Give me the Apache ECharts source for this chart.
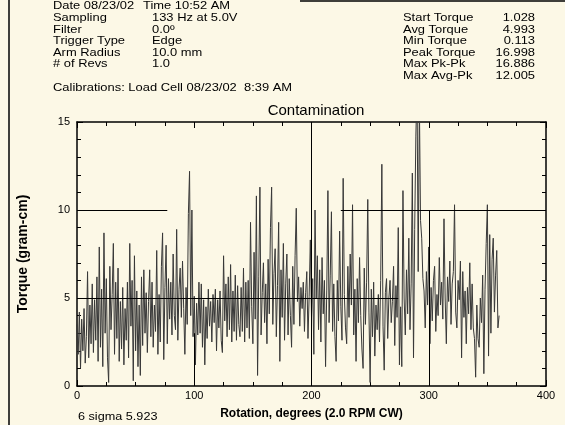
<!DOCTYPE html>
<html>
<head>
<meta charset="utf-8">
<script src="https://cdn.jsdelivr.net/npm/echarts@6/dist/echarts.min.js"></script>
<style>
  html, body { margin: 0; padding: 0; background: #fcf8e6; }
  #chart { width: 565px; height: 425px; }
</style>
</head>
<body>
<div id="chart"></div>
<script>
// torque readings, one per degree of rotation starting at 0
var degStep = 1;
var torque = [
  3.5,1.8,4.2,1.0,3.8,2.0,4.4,1.3,2.8,6.5,
  1.6,4.6,2.4,5.8,1.9,4.9,2.6,6.2,1.4,7.9,
  2.2,5.5,1.1,8.7,3.0,6.1,1.6,0.2,6.8,3.2,
  5.2,8.1,1.8,5.9,2.7,6.7,1.4,4.8,2.1,5.6,
  1.2,4.4,2.6,5.9,1.6,8.1,3.4,6.0,0.3,7.4,
  2.0,5.4,1.1,4.6,0.6,6.2,2.3,6.6,3.0,5.3,
  1.9,4.8,6.6,2.8,5.9,2.2,4.6,3.1,7.7,1.8,
  5.2,2.5,6.8,8.7,1.5,5.6,8.0,2.4,6.1,3.8,
  5.9,2.9,7.5,4.0,3.2,8.9,2.6,5.5,6.7,3.9,
  7.1,4.4,1.8,5.6,3.5,9.8,12.2,4.0,10.0,2.8,
  5.1,1.2,4.7,2.9,5.9,3.0,5.8,2.2,4.9,1.2,
  4.5,2.7,5.5,3.4,4.8,2.5,5.2,3.6,5.5,2.0,
  4.9,3.3,5.4,2.6,1.9,7.4,3.7,5.8,2.8,6.2,
  3.2,6.9,2.5,5.4,3.1,6.3,2.6,5.7,3.5,2.8,
  5.6,3.1,6.7,2.5,5.9,3.3,6.0,2.7,9.3,4.5,
  2.4,7.6,3.8,10.8,0.6,6.2,11.3,2.9,5.3,7.0,
  3.6,5.8,2.4,7.2,4.1,9.0,11.3,3.5,6.4,7.8,
  2.8,5.7,9.3,1.4,6.6,3.9,8.1,2.6,5.8,7.5,
  2.9,6.1,4.0,2.2,6.8,3.5,7.4,10.1,4.8,6.2,
  3.4,5.6,4.4,5.9,3.1,5.3,6.5,2.7,5.1,8.3,
  3.9,6.1,1.8,10.0,5.0,7.4,3.2,6.6,2.5,7.3,
  4.1,6.0,1.1,5.4,11.1,3.6,6.3,9.9,3.1,5.8,
  2.8,1.4,6.0,3.7,8.8,4.5,2.6,11.8,5.2,3.3,
  2.4,6.8,3.9,7.5,4.6,10.3,2.9,5.5,1.4,6.1,
  3.6,7.3,4.0,2.1,1.0,6.7,3.5,5.9,10.6,4.2,
  0.2,5.5,2.8,5.9,1.7,4.6,3.2,5.2,2.5,6.0,
  12.6,3.4,0.9,5.3,6.1,2.7,5.0,6.0,3.6,4.8,
  6.8,2.3,5.7,3.9,9.0,1.2,4.5,1.1,11.1,5.0,
  2.9,6.6,4.1,8.4,3.2,5.8,12.1,1.6,8.9,14.2,
  17.0,6.5,16.2,9.4,8.4,6.1,5.4,3.3,6.5,4.6,
  7.9,2.4,5.6,3.7,6.0,6.8,3.1,5.2,4.0,7.3,
  4.6,5.9,3.8,9.5,5.0,2.4,6.2,4.8,7.1,3.5,
  5.8,6.5,10.3,4.2,3.3,6.0,4.9,7.1,1.6,6.5,
  3.9,5.4,2.4,5.6,4.1,7.0,3.2,5.8,3.3,2.7,
  0.5,4.6,2.7,2.2,5.0,3.6,6.3,0.7,5.5,8.1,
  10.3,1.7,8.6,3.0,7.2,8.4,4.2,6.3,7.7,3.3,
  4.0
];

// header block text
var infoLabels = ["Sampling", "Filter", "Trigger Type", "Arm Radius", "# of Revs"];
var infoValues = ["133 Hz at 5.0V", "0.0\u00ba", "Edge", "10.0 mm", "1.0"];
var statLabels = ["Start Torque", "Avg Torque", "Min Torque", "Peak Torque", "Max Pk-Pk", "Max Avg-Pk"];
var statValues = ["1.028", "4.993", "0.113", "16.998", "16.886", "12.005"];

// partial reference lines as they appear on the plot: [x1, y1, x2, y2]
var refLines = [
  [0, 10, 77, 10],
  [225, 10, 400, 10],
  [0, 5, 274, 5],
  [200, 0, 200, 15],
  [300, 0, 300, 10],
  [100, 0, 100, 3]
];

var font = "'Liberation Sans', Arial, sans-serif";
var chart = echarts.init(document.getElementById("chart"));

// header text is drawn slightly stretched, like the scanned original
function hText(str, x, y, align) {
  return {
    type: "text", x: x, y: y, scaleX: 1.23,
    style: { text: str, font: "10.5px " + font, fill: "#000", align: align || "left", verticalAlign: "middle" }
  };
}

var graphics = [
  { type: "line", shape: { x1: 9, y1: 0, x2: 9, y2: 425 }, style: { stroke: "#000", lineWidth: 1.5 } },
  { type: "line", shape: { x1: 300, y1: 1, x2: 565, y2: 1 }, style: { stroke: "#000", lineWidth: 1.5 } },
  hText("Date 08/23/02", 53, 6),
  hText("Time 10:52 AM", 143, 6),
  hText("Calibrations: Load Cell 08/23/02  8:39 AM", 53, 88),
  { type: "text", x: 78, y: 417, scaleX: 1.1,
    style: { text: "6 sigma 5.923", font: "11.5px " + font, fill: "#000", verticalAlign: "middle" } }
];
infoLabels.forEach(function (t, i) {
  graphics.push(hText(t, 53, 18.5 + i * 11.5));
  graphics.push(hText(infoValues[i], 152, 18.5 + i * 11.5));
});
statLabels.forEach(function (t, i) {
  graphics.push(hText(t, 403, 18.5 + i * 11.5));
  graphics.push(hText(statValues[i], 535, 18.5 + i * 11.5, "right"));
});

function xAx(pos, labels) {
  return {
    type: "value", position: pos, min: 0, max: 400, interval: 100,
    axisLine: { show: true, onZero: false, lineStyle: { color: "#000", width: 1.5 } },
    axisTick: { show: true, inside: true, length: 6, lineStyle: { color: "#000", width: 1 } },
    minorTick: { show: true, splitNumber: 4, length: 4, lineStyle: { color: "#000", width: 1 } },
    splitLine: { show: false },
    axisLabel: { show: labels, color: "#000", fontFamily: font, fontSize: 11, margin: 4 },
    name: labels ? "Rotation, degrees (2.0 RPM CW)" : "",
    nameLocation: "middle", nameGap: 22,
    nameTextStyle: { color: "#000", fontFamily: font, fontSize: 12, fontWeight: "bold" }
  };
}
function yAx(pos, labels) {
  return {
    type: "value", position: pos, min: 0, max: 15, interval: 5,
    axisLine: { show: true, onZero: false, lineStyle: { color: "#000", width: 1.5 } },
    axisTick: { show: true, inside: true, length: 6, lineStyle: { color: "#000", width: 1 } },
    minorTick: { show: true, splitNumber: 5, length: 4, lineStyle: { color: "#000", width: 1 } },
    splitLine: { show: false },
    axisLabel: { show: labels, color: "#000", fontFamily: font, fontSize: 11, margin: 7 },
    name: labels ? "Torque (gram-cm)" : "",
    nameLocation: "middle", nameGap: 47,
    nameTextStyle: { color: "#000", fontFamily: font, fontSize: 14, fontWeight: "bold" }
  };
}

chart.setOption({
  backgroundColor: "#fcf8e6",
  animation: false,
  title: {
    text: "Contamination", left: 311, top: 98, textAlign: "center",
    textStyle: { color: "#000", fontFamily: font, fontSize: 15, fontWeight: "normal" }
  },
  grid: { left: 77, right: 19, top: 122, bottom: 38 },
  xAxis: [xAx("bottom", true), xAx("top", false)],
  yAxis: [yAx("left", true), yAx("right", false)],
  graphic: graphics,
  series: [{
    type: "line",
    showSymbol: false,
    clip: true,
    lineStyle: { color: "#383838", width: 1 },
    data: torque.map(function (v, i) { return [i * degStep, v]; }),
    markLine: {
      silent: true, symbol: "none", label: { show: false },
      lineStyle: { color: "#000", width: 1, type: "solid" },
      data: refLines.map(function (l) { return [{ coord: [l[0], l[1]] }, { coord: [l[2], l[3]] }]; })
    }
  }]
});
</script>
</body>
</html>
